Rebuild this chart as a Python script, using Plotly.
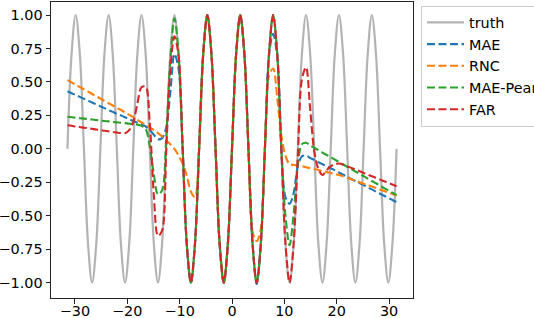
import plotly.graph_objects as go

# x knots (every quarter period)
X = [-31.42, -30.63, -29.85, -29.06, -28.27, -27.49, -26.70, -25.92, -25.13, -24.35,
     -23.56, -22.78, -21.99, -21.21, -20.42, -19.63, -18.85, -18.06, -17.28, -16.49,
     -15.71, -14.92, -14.14, -13.35, -12.57, -11.78, -10.99, -10.21, -9.42, -8.64,
     -7.85, -7.07, -6.28, -5.50, -4.71, -3.93, -3.14, -2.36, -1.57, -0.79,
     0.00, 0.79, 1.57, 2.36, 3.14, 3.93, 4.71, 5.50, 6.28, 7.07,
     7.85, 8.64, 9.42, 10.21, 10.99, 11.78, 12.57, 13.35, 14.14, 14.92,
     15.71, 16.49, 17.28, 18.06, 18.85, 19.63, 20.42, 21.21, 21.99, 22.78,
     23.56, 24.35, 25.13, 25.92, 26.70, 27.49, 28.27, 29.06, 29.85, 30.63, 31.42]

truth = [0, 0.71, 1, 0.71, 0, -0.71, -1, -0.71, 0, 0.71,
         1, 0.71, 0, -0.71, -1, -0.71, 0, 0.71, 1, 0.71,
         0, -0.71, -1, -0.71, 0, 0.71, 1, 0.71, 0, -0.71,
         -1, -0.71, 0, 0.71, 1, 0.71, 0, -0.71, -1, -0.71,
         0, 0.71, 1, 0.71, 0, -0.71, -1, -0.71, 0, 0.71,
         1, 0.71, 0, -0.71, -1, -0.71, 0, 0.71, 1, 0.71,
         0, -0.71, -1, -0.71, 0, 0.71, 1, 0.71, 0, -0.71,
         -1, -0.71, 0, 0.71, 1, 0.71, 0, -0.71, -1, -0.71, 0]

mae = [0.43, 0.416, 0.402, 0.388, 0.374, 0.36, 0.346, 0.332, 0.318, 0.304,
       0.29, 0.276, 0.262, 0.25, 0.236, 0.222, 0.208, 0.196, 0.185, 0.168,
       0.14, 0.105, 0.072, 0.08, 0.16, 0.42, 0.71, 0.6, 0, -0.71,
       -1, -0.71, 0, 0.71, 1, 0.71, 0, -0.71, -1, -0.71,
       0, 0.71, 1, 0.71, 0, -0.71, -1.01, -0.71, 0, 0.70,
       0.86, 0.69, 0.0, -0.36, -0.41, -0.33, -0.13, -0.055, -0.05, -0.068,
       -0.083, -0.10, -0.115, -0.13, -0.145, -0.16, -0.177, -0.193, -0.208, -0.225,
       -0.24, -0.256, -0.27, -0.287, -0.303, -0.32, -0.335, -0.35, -0.366, -0.382, -0.398]

rnc = [0.514, 0.497, 0.479, 0.462, 0.445, 0.428, 0.41, 0.393, 0.376, 0.358,
       0.341, 0.324, 0.307, 0.29, 0.272, 0.254, 0.236, 0.217, 0.198, 0.179,
       0.16, 0.14, 0.118, 0.092, 0.063, 0.035, 0.0, -0.05, -0.11, -0.2,
       -0.32, -0.36, 0.0, 0.71, 1, 0.71, 0, -0.71, -1, -0.71,
       0, 0.71, 1, 0.71, 0, -0.62, -0.69, -0.6, 0.0, 0.55,
       0.6, 0.38, 0.1, -0.05, -0.115, -0.12, -0.125, -0.13, -0.137, -0.144,
       -0.151, -0.158, -0.165, -0.172, -0.18, -0.187, -0.195, -0.205, -0.216, -0.227,
       -0.238, -0.249, -0.26, -0.271, -0.282, -0.293, -0.304, -0.315, -0.326, -0.337, -0.348]

mae_pea = [0.24, 0.236, 0.233, 0.229, 0.226, 0.222, 0.219, 0.215, 0.212, 0.208,
           0.205, 0.201, 0.198, 0.195, 0.192, 0.188, 0.185, 0.181, 0.172, 0.15,
           0.02, -0.19, -0.34, -0.31, 0.08, 0.66, 0.975, 0.71, 0, -0.71,
           -1, -0.71, 0, 0.71, 1, 0.71, 0, -0.71, -1, -0.71,
           0, 0.71, 1, 0.71, 0, -0.71, -1, -0.71, 0, 0.71,
           1, 0.71, 0, -0.5, -0.72, -0.48, -0.12, 0.035, 0.045, 0.026,
           0.008, -0.01, -0.028, -0.045, -0.063, -0.08, -0.098, -0.116, -0.134, -0.151,
           -0.169, -0.187, -0.204, -0.222, -0.24, -0.257, -0.275, -0.293, -0.31, -0.328, -0.346]

far = [0.176, 0.172, 0.167, 0.163, 0.158, 0.154, 0.149, 0.144, 0.14, 0.135,
       0.131, 0.126, 0.122, 0.118, 0.117, 0.14, 0.2, 0.34, 0.46, 0.465,
       0.2, -0.35, -0.65, -0.61, -0.02, 0.6, 0.84, 0.7, 0, -0.71,
       -1, -0.71, 0, 0.71, 1, 0.71, 0, -0.71, -1, -0.71,
       0, 0.71, 1, 0.71, 0, -0.71, -1, -0.71, 0, 0.71,
       1, 0.71, 0, -0.71, -1, -0.70, -0.05, 0.52, 0.61, 0.3,
       -0.02, -0.15, -0.195, -0.16, -0.13, -0.115, -0.11, -0.118, -0.13, -0.142,
       -0.155, -0.167, -0.18, -0.192, -0.205, -0.217, -0.23, -0.242, -0.255, -0.267, -0.28]

x_tickvals = [-30, -20, -10, 0, 10, 20, 30]
x_ticktext = ["\u221230", "\u221220", "\u221210", "0", "10", "20", "30"]
y_tickvals = [1.0, 0.75, 0.5, 0.25, 0.0, -0.25, -0.5, -0.75, -1.0]
y_ticktext = ["1.00", "0.75", "0.50", "0.25", "0.00", "\u22120.25", "\u22120.50", "\u22120.75", "\u22121.00"]

FONT = "DejaVu Sans"
DASH = "8px,3.5px"

fig = go.Figure()
fig.add_trace(go.Scatter(x=X, y=truth, name="truth", mode="lines",
                         line=dict(color="rgba(128,128,128,0.6)", width=2.2, shape="spline")))
series = [("MAE", mae, "#1f77b4"), ("RNC", rnc, "#ff7f0e"),
          ("MAE-Pearson", mae_pea, "#2ca02c"), ("FAR", far, "#d62728")]
for name, ys, col in series:
    fig.add_trace(go.Scatter(x=X, y=ys, name=name, mode="lines",
                             line=dict(color=col, width=2.1, dash=DASH, shape="spline", smoothing=0.9)))

axis_common = dict(showgrid=False, zeroline=False, showline=True, mirror=True,
                   linecolor="#222222", linewidth=1, ticks="outside", ticklen=4.5,
                   tickcolor="#222222", tickwidth=1,
                   tickfont=dict(family=FONT, size=14.4, color="black"))
fig.update_xaxes(range=[-34.56, 34.56], tickmode="array", tickvals=x_tickvals,
                 ticktext=x_ticktext, ticklabelstandoff=-5, **axis_common)
fig.update_yaxes(range=[-1.1143, 1.0971], tickmode="array", tickvals=y_tickvals,
                 ticktext=y_ticktext, **axis_common)

fig.update_layout(
    width=534, height=318,
    margin=dict(l=51, r=121, t=2, b=20, autoexpand=False),
    plot_bgcolor="white", paper_bgcolor="white",
    font=dict(family=FONT, size=14.4, color="black"),
    legend=dict(xref="container", yref="container", x=421 / 534, y=1 - 5.5 / 318,
                xanchor="left", yanchor="top", bgcolor="rgba(255,255,255,0.8)",
                bordercolor="#cccccc", borderwidth=1, itemwidth=37,
                font=dict(family=FONT, size=14.4, color="black")),
    showlegend=True,
)

fig.write_html("out.html", config={"displayModeBar": False},
               post_script="document.body.style.margin='0';document.body.style.overflow='hidden';")
